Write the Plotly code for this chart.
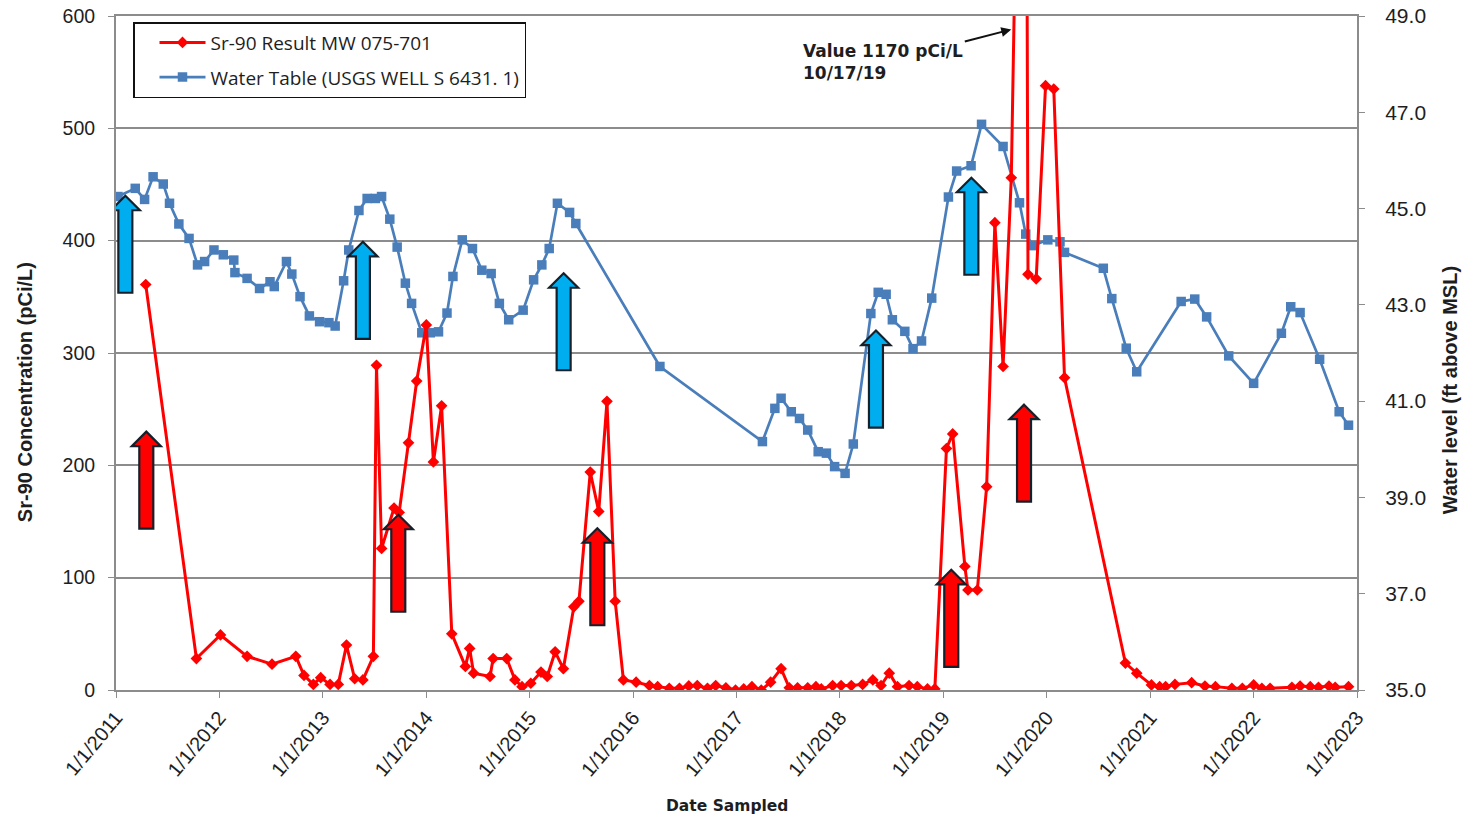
import plotly.graph_objects as go

# ---------------- data ----------------
sr_dates = [
    "2011-04-16", "2011-10-12", "2012-01-05", "2012-04-08", "2012-07-05", "2012-09-27",
    "2012-10-26", "2012-11-28", "2012-12-24", "2013-01-26", "2013-02-24", "2013-03-25",
    "2013-04-23", "2013-05-22", "2013-06-28", "2013-07-09", "2013-07-27", "2013-09-09",
    "2013-09-27", "2013-10-30", "2013-11-28", "2014-01-01", "2014-01-26", "2014-02-24",
    "2014-04-01", "2014-05-19", "2014-06-03", "2014-06-17", "2014-08-14", "2014-08-25",
    "2014-10-12", "2014-11-10", "2014-12-05", "2015-01-05", "2015-02-10", "2015-03-04",
    "2015-04-01", "2015-04-30", "2015-06-06", "2015-06-24", "2015-08-03", "2015-09-02",
    "2015-10-01", "2015-10-30", "2015-11-28", "2016-01-12", "2016-02-28", "2016-03-28",
    "2016-05-08", "2016-06-13", "2016-07-16", "2016-08-15", "2016-09-20", "2016-10-19",
    "2016-11-24", "2016-12-28", "2017-01-26", "2017-02-24", "2017-03-29", "2017-05-01",
    "2017-06-07", "2017-07-06", "2017-08-04", "2017-09-09", "2017-10-08", "2017-10-27",
    "2017-12-06", "2018-01-05", "2018-02-10", "2018-03-22", "2018-04-27", "2018-05-26",
    "2018-06-24", "2018-07-23", "2018-09-02", "2018-10-01", "2018-11-06", "2018-12-02",
    "2019-01-12", "2019-02-03", "2019-03-18", "2019-03-29", "2019-05-01", "2019-06-03",
    "2019-07-02", "2019-07-31", "2019-08-29", "2019-10-17", "2019-10-27", "2019-11-25",
    "2019-12-28", "2020-01-26", "2020-03-04", "2020-10-05", "2020-11-14", "2021-01-05",
    "2021-02-03", "2021-02-24", "2021-03-29", "2021-05-27", "2021-07-13", "2021-08-19",
    "2021-10-16", "2021-11-22", "2022-01-01", "2022-01-30", "2022-02-28", "2022-05-16",
    "2022-06-14", "2022-07-20", "2022-08-18", "2022-09-24", "2022-10-16", "2022-12-02",
]
sr_values = [
    361, 28, 49, 30, 23, 30,
    13, 5, 11, 5, 5, 40,
    10, 9, 30, 289, 126, 162,
    158, 220, 275, 325, 203, 253,
    50, 21, 37, 15, 12, 28,
    28, 9, 3, 6, 16, 12,
    34, 19, 74, 79, 194, 159,
    257, 79, 9, 7, 4, 3,
    1.5, 1.5, 3.6, 4, 1.5, 4,
    2, 0, 1, 3, 0, 7,
    19, 2, 2, 2, 3, 1,
    4, 4, 4, 5, 9, 4,
    15, 3, 4, 3, 1, 1,
    215, 228, 110, 89, 89, 181,
    416, 288, 456, 1170, 370, 366,
    538, 535, 278, 24, 15, 4.5,
    3, 3, 5, 6.5, 3.5, 3,
    1.5, 1.5, 4.5, 1.5, 1.5, 2.4,
    3.5, 3, 2.4, 3.5, 2.4, 3,
]

wt_dates = [
    "2011-01-08", "2011-03-10", "2011-04-12", "2011-05-12", "2011-06-17", "2011-07-09",
    "2011-08-11", "2011-09-16", "2011-10-16", "2011-11-10", "2011-12-13", "2012-01-15",
    "2012-02-21", "2012-02-25", "2012-04-08", "2012-05-22", "2012-06-28", "2012-07-13",
    "2012-08-25", "2012-09-13", "2012-10-12", "2012-11-14", "2012-12-20", "2013-01-22",
    "2013-02-13", "2013-03-15", "2013-04-02", "2013-05-08", "2013-06-06", "2013-07-05",
    "2013-07-27", "2013-08-25", "2013-09-20", "2013-10-19", "2013-11-10", "2013-12-16",
    "2014-01-15", "2014-02-13", "2014-03-15", "2014-04-05", "2014-05-08", "2014-06-13",
    "2014-07-16", "2014-08-18", "2014-09-16", "2014-10-19", "2014-12-09", "2015-01-15",
    "2015-02-13", "2015-03-11", "2015-04-09", "2015-05-22", "2015-06-13", "2016-04-05",
    "2017-04-02", "2017-05-16", "2017-06-07", "2017-07-13", "2017-08-11", "2017-09-09",
    "2017-10-16", "2017-11-14", "2017-12-13", "2018-01-19", "2018-02-17", "2018-04-20",
    "2018-05-16", "2018-06-13", "2018-07-05", "2018-08-18", "2018-09-16", "2018-10-16",
    "2018-11-21", "2019-01-19", "2019-02-17", "2019-04-09", "2019-05-16", "2019-07-31",
    "2019-09-27", "2019-10-19", "2019-11-14", "2020-01-05", "2020-02-17", "2020-03-04",
    "2020-07-19", "2020-08-18", "2020-10-08", "2020-11-14", "2021-04-20", "2021-06-07",
    "2021-07-19", "2021-10-05", "2022-01-01", "2022-04-09", "2022-05-12", "2022-06-14",
    "2022-08-22", "2022-10-30", "2022-12-02",
]
wt_values = [
    45.25, 45.42, 45.19, 45.66, 45.51, 45.11,
    44.68, 44.38, 43.83, 43.90, 44.14, 44.04,
    43.93, 43.67, 43.55, 43.34, 43.48, 43.38,
    43.90, 43.64, 43.17, 42.77, 42.65, 42.63,
    42.56, 43.50, 44.14, 44.96, 45.21, 45.21,
    45.25, 44.78, 44.20, 43.45, 43.03, 42.42,
    42.42, 42.44, 42.83, 43.59, 44.35, 44.17,
    43.72, 43.65, 43.03, 42.69, 42.89, 43.52,
    43.83, 44.17, 45.11, 44.92, 44.69, 41.72,
    40.16, 40.85, 41.06, 40.78, 40.64, 40.40,
    39.95, 39.92, 39.64, 39.50, 40.11, 42.82,
    43.26, 43.22, 42.69, 42.45, 42.09, 42.25,
    43.14, 45.24, 45.78, 45.89, 46.75, 46.29,
    45.12, 44.47, 44.23, 44.35, 44.31, 44.09,
    43.76, 43.13, 42.10, 41.61, 43.07, 43.12,
    42.75, 41.94, 41.37, 42.41, 42.96, 42.84,
    41.87, 40.78, 40.50,
]

tick_years = list(range(2011, 2024))
tick_vals = [f"{y}-01-01" for y in tick_years]
tick_text = [f"1/1/{y}" for y in tick_years]

left_ticks = [0, 100, 200, 300, 400, 500, 600]
right_ticks = [35, 37, 39, 41, 43, 45, 47, 49]

# decorative block arrows: (tip date, tip value on left axis, colour)
arrow_specs = [
    ("2011-02-03", 440, "blue"),
    ("2013-05-22", 399, "blue"),
    ("2015-05-01", 371, "blue"),
    ("2018-05-08", 320, "blue"),
    ("2019-04-10", 456, "blue"),
    ("2011-04-18", 230, "red"),
    ("2013-09-24", 156, "red"),
    ("2015-08-28", 144, "red"),
    ("2019-01-29", 107, "red"),
    ("2019-10-13", 254, "red"),
]

# ---------------- figure ----------------
RED = "#FF0000"
BLUE = "#4A7EBB"
GRID = "#8C8C8C"
TXT = "#1E1E1E"

fig = go.Figure()
fig.add_trace(go.Scatter(
    x=sr_dates, y=sr_values, name="Sr-90 Result MW 075-701",
    mode="lines+markers", yaxis="y2", legendgroup="a",
    line=dict(color=RED, width=3),
    marker=dict(symbol="diamond", size=9, color=RED),
))
fig.add_trace(go.Scatter(
    x=wt_dates, y=wt_values, name="Water Table (USGS WELL S 6431. 1)",
    mode="lines+markers", yaxis="y", legendgroup="b",
    line=dict(color=BLUE, width=2.7),
    marker=dict(symbol="square", size=9.5, color=BLUE),
))

arrow_path = "M0,0 L14.5,-14.5 L7,-14.5 L7,-97 L-7,-97 L-7,-14.5 L-14.5,-14.5 Z"
fill_map = {"blue": "#00AEEF", "red": "#FF0000"}
shapes = []
for d, v, c in arrow_specs:
    shapes.append(dict(
        type="path", xref="x", yref="y2", xsizemode="pixel", ysizemode="pixel",
        xanchor=d, yanchor=v, path=arrow_path, fillcolor=fill_map[c],
        line=dict(color="#15202B", width=2.2), layer="above",
    ))

title_font = dict(family="Liberation Sans Narrow, Arial Narrow, Liberation Sans, sans-serif",
                  size=20, color=TXT, weight="bold")

fig.update_layout(
    width=1468, height=816,
    margin=dict(l=116, r=111, t=16, b=126),
    paper_bgcolor="white", plot_bgcolor="white",
    showlegend=True,
    legend=dict(
        x=0.0137, y=0.991, xanchor="left", yanchor="top",
        bgcolor="white", bordercolor="#111111", borderwidth=1.5,
        font=dict(family="Open Sans, Liberation Sans, sans-serif", size=19, color=TXT),
        tracegroupgap=7, itemwidth=46, indentation=20,
    ),
    xaxis=dict(
        type="date", range=["2011-01-01", "2023-01-01"], automargin=False,
        tickmode="array", tickvals=tick_vals, ticktext=tick_text, tickangle=-50,
        tickfont=dict(family="Liberation Sans, Arial, sans-serif", size=20, color=TXT),
        ticks="outside", ticklen=6, tickcolor=GRID,
        showline=True, linecolor=GRID, linewidth=2, mirror=True,
        showgrid=False, zeroline=False,
    ),
    yaxis=dict(
        side="right", range=[35, 49], tickmode="array", tickvals=right_ticks,
        ticktext=[f"{t:.1f}" for t in right_ticks], automargin=False,
        tickfont=dict(family="Liberation Sans, Arial, sans-serif", size=21, color=TXT),
        ticks="outside", ticklen=6, tickcolor=GRID, ticklabelstandoff=16,
        showline=True, linecolor=GRID, linewidth=2,
        showgrid=False, zeroline=False,
    ),
    yaxis2=dict(
        side="left", overlaying="y", anchor="x", range=[0, 600], automargin=False,
        tickmode="array", tickvals=left_ticks,
        tickfont=dict(family="Liberation Sans, Arial, sans-serif", size=19.5, color=TXT),
        ticks="outside", ticklen=6, tickcolor=GRID, ticklabelstandoff=9,
        showline=True, linecolor=GRID, linewidth=2,
        showgrid=True, gridcolor=GRID, gridwidth=2, zeroline=False,
    ),
    shapes=shapes,
    annotations=[
        dict(
            text="Value 1170 pCi/L<br>10/17/19", xref="x", yref="y2",
            x="2019-08-29", y=588, ax=-128, ay=33, axref="pixel", ayref="pixel",
            showarrow=True, arrowhead=2, arrowsize=1, arrowwidth=2, arrowcolor="#111111",
            align="left", font=dict(family="DejaVu Sans, Verdana, sans-serif",
                                    size=17, color=TXT, weight="bold"),
        ),
        dict(
            text="Sr-90 Concentration (pCi/L)", xref="paper", yref="paper",
            x=-0.0733, y=0.442, xanchor="center", yanchor="middle",
            textangle=-90, showarrow=False, font=title_font,
        ),
        dict(
            text="Water level (ft above MSL)", xref="paper", yref="paper",
            x=1.075, y=0.445, xanchor="center", yanchor="middle",
            textangle=-90, showarrow=False, font=title_font,
        ),
        dict(
            text="Date Sampled", xref="paper", yref="paper",
            x=0.492, y=-0.172, xanchor="center", yanchor="middle", showarrow=False,
            font=dict(family="DejaVu Sans, Verdana, sans-serif", size=15.5,
                      color=TXT, weight="bold"),
        ),
    ],
)

fig.write_html("out.html")
